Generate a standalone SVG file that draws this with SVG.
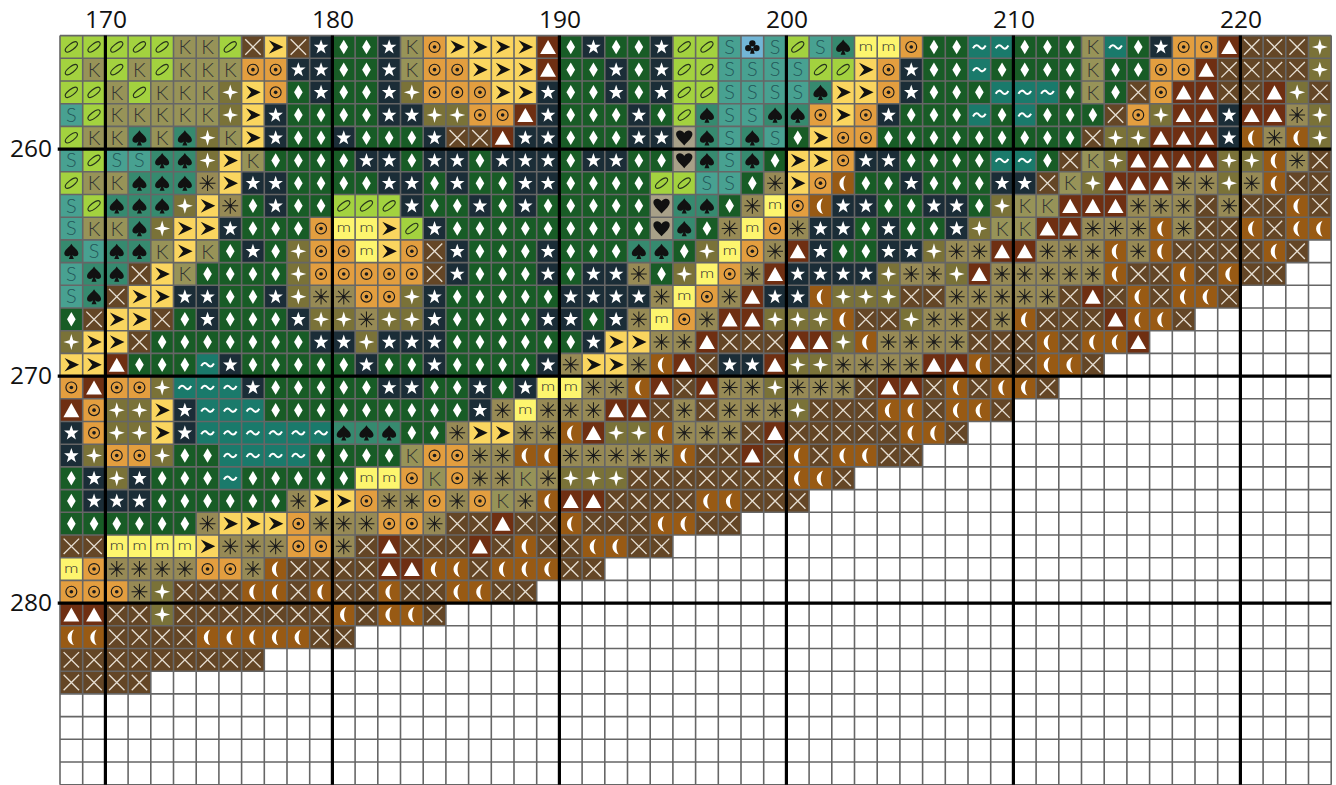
<svg xmlns="http://www.w3.org/2000/svg" width="1336" height="785" viewBox="0 0 1336 785">
<style>
.l{font:24.5px "Open Sans","Liberation Sans",sans-serif;fill:#111}
.g{font-family:Lato,"Open Sans","Liberation Sans",sans-serif;font-weight:300;text-anchor:middle}
.w{fill:#fff}
.n{fill:none;stroke-linecap:butt}
</style>
<defs>
<g id="d"><rect width="1" height="1" fill="#185c26"/><path class="w" d="M.5 .18L.69 .5L.5 .82L.31 .5Z"/></g>
<g id="t"><rect width="1" height="1" fill="#1b2d37"/><path class="w" d="M.5 .17L.58 .4H.82L.63 .55L.7 .79L.5 .65L.3 .79L.37 .55L.18 .4H.42Z"/></g>
<g id="w"><rect width="1" height="1" fill="#1a7a6b"/><path class="n" stroke="#fff" stroke-width=".09" d="M.22 .56C.32 .38 .42 .4 .5 .5C.58 .6 .68 .62 .78 .44"/></g>
<g id="S"><rect width="1" height="1" fill="#48a191"/><text class="g" x="12.5" y="20" font-size="22" fill="#24585a" transform="scale(.04)">S</text></g>
<g id="p"><rect width="1" height="1" fill="#368a6f"/><path fill="#111" d="M.5 .17C.6 .34 .81 .44 .81 .6C.81 .73 .63 .76 .54 .66L.61 .84H.39L.46 .66C.37 .76 .19 .73 .19 .6C.19 .44 .4 .34 .5 .17Z"/></g>
<g id="K"><rect width="1" height="1" fill="#979358"/><text class="g" x="12.5" y="20.5" font-size="22" fill="#333" transform="scale(.04)">K</text></g>
<g id="o"><rect width="1" height="1" fill="#a3d23f"/><ellipse cx="0" cy="0" rx=".32" ry=".13" transform="translate(.5 .5) rotate(-38)" fill="none" stroke="#26331c" stroke-width=".05"/></g>
<g id="x"><rect width="1" height="1" fill="#644626"/><path class="n" stroke="#e6ded2" stroke-width=".06" d="M.16 .16L.84 .84M.84 .16L.16 .84"/></g>
<g id="a"><rect width="1" height="1" fill="#fad55f"/><path fill="#111" d="M.2 .2L.84 .5L.2 .8L.42 .5Z"/></g>
<g id="c"><rect width="1" height="1" fill="#e39e3f"/><circle cx=".5" cy=".5" r=".24" fill="none" stroke="#1a1a1a" stroke-width=".05"/><circle cx=".5" cy=".5" r=".08" fill="#1a1a1a"/></g>
<g id="m"><rect width="1" height="1" fill="#fdf56e"/><text class="g" x="12.5" y="16.5" font-size="16" fill="#333" textLength="16" lengthAdjust="spacingAndGlyphs" transform="scale(.04)">m</text></g>
<g id="f"><rect width="1" height="1" fill="#7a7238"/><path class="w" d="M.5 .15L.58 .42L.85 .5L.58 .58L.5 .85L.42 .58L.15 .5L.42 .42Z"/></g>
<g id="j"><rect width="1" height="1" fill="#978a55"/><path class="n" stroke="#1a1a1a" stroke-width=".045" d="M.5 .15V.85M.15 .5H.85M.25 .25L.75 .75M.75 .25L.25 .75"/><circle cx=".5" cy=".5" r=".07" fill="#1a1a1a"/></g>
<g id="v"><rect width="1" height="1" fill="#6f2f12"/><path class="w" d="M.5 .19L.85 .81H.15Z"/></g>
<g id="u"><rect width="1" height="1" fill="#985a14"/><path class="w" d="M.62 .16C.24 .3 .24 .72 .62 .86C.48 .68 .48 .36 .62 .16Z"/></g>
<g id="h"><rect width="1" height="1" fill="#a8a088"/><path fill="#111" d="M.5 .84C.3 .62 .14 .5 .14 .34C.14 .16 .4 .12 .5 .3C.6 .12 .86 .16 .86 .34C.86 .5 .7 .62 .5 .84Z"/></g>
<g id="b"><rect width="1" height="1" fill="#72b6d6"/><path fill="#111" d="M.46 .55L.4 .8H.6L.54 .55Z"/><circle cx=".5" cy=".34" r=".14" fill="#111"/><circle cx=".32" cy=".55" r=".14" fill="#111"/><circle cx=".68" cy=".55" r=".14" fill="#111"/></g>
</defs>
<rect width="1336" height="785" fill="#fff"/>
<g id="labels" class="l">
<text x="106" y="28" text-anchor="middle">170</text><text x="333" y="28" text-anchor="middle">180</text><text x="560" y="28" text-anchor="middle">190</text><text x="787" y="28" text-anchor="middle">200</text><text x="1014" y="28" text-anchor="middle">210</text><text x="1241" y="28" text-anchor="middle">220</text>
<text x="52" y="157" text-anchor="end">260</text><text x="52" y="384" text-anchor="end">270</text><text x="52" y="611" text-anchor="end">280</text>
</g>
<g id="chart" transform="translate(60 35.6) scale(22.7)">
<g id="r0"><use href="#o" x="0"/><use href="#o" x="1"/><use href="#o" x="2"/><use href="#o" x="3"/><use href="#o" x="4"/><use href="#K" x="5"/><use href="#K" x="6"/><use href="#o" x="7"/><use href="#x" x="8"/><use href="#a" x="9"/><use href="#x" x="10"/><use href="#t" x="11"/><use href="#d" x="12"/><use href="#d" x="13"/><use href="#t" x="14"/><use href="#K" x="15"/><use href="#c" x="16"/><use href="#a" x="17"/><use href="#a" x="18"/><use href="#a" x="19"/><use href="#a" x="20"/><use href="#v" x="21"/><use href="#d" x="22"/><use href="#t" x="23"/><use href="#d" x="24"/><use href="#d" x="25"/><use href="#t" x="26"/><use href="#o" x="27"/><use href="#o" x="28"/><use href="#S" x="29"/><use href="#b" x="30"/><use href="#S" x="31"/><use href="#o" x="32"/><use href="#S" x="33"/><use href="#p" x="34"/><use href="#m" x="35"/><use href="#m" x="36"/><use href="#c" x="37"/><use href="#d" x="38"/><use href="#d" x="39"/><use href="#w" x="40"/><use href="#w" x="41"/><use href="#d" x="42"/><use href="#d" x="43"/><use href="#d" x="44"/><use href="#K" x="45"/><use href="#w" x="46"/><use href="#d" x="47"/><use href="#t" x="48"/><use href="#c" x="49"/><use href="#c" x="50"/><use href="#v" x="51"/><use href="#x" x="52"/><use href="#x" x="53"/><use href="#x" x="54"/><use href="#f" x="55"/></g>
<g id="r1" transform="translate(0 1)"><use href="#o" x="0"/><use href="#K" x="1"/><use href="#o" x="2"/><use href="#K" x="3"/><use href="#o" x="4"/><use href="#K" x="5"/><use href="#K" x="6"/><use href="#K" x="7"/><use href="#c" x="8"/><use href="#c" x="9"/><use href="#t" x="10"/><use href="#t" x="11"/><use href="#d" x="12"/><use href="#d" x="13"/><use href="#t" x="14"/><use href="#K" x="15"/><use href="#c" x="16"/><use href="#c" x="17"/><use href="#a" x="18"/><use href="#a" x="19"/><use href="#a" x="20"/><use href="#v" x="21"/><use href="#d" x="22"/><use href="#d" x="23"/><use href="#t" x="24"/><use href="#d" x="25"/><use href="#t" x="26"/><use href="#o" x="27"/><use href="#o" x="28"/><use href="#S" x="29"/><use href="#S" x="30"/><use href="#S" x="31"/><use href="#S" x="32"/><use href="#o" x="33"/><use href="#o" x="34"/><use href="#a" x="35"/><use href="#c" x="36"/><use href="#t" x="37"/><use href="#d" x="38"/><use href="#d" x="39"/><use href="#w" x="40"/><use href="#d" x="41"/><use href="#d" x="42"/><use href="#d" x="43"/><use href="#d" x="44"/><use href="#K" x="45"/><use href="#d" x="46"/><use href="#d" x="47"/><use href="#c" x="48"/><use href="#c" x="49"/><use href="#v" x="50"/><use href="#x" x="51"/><use href="#x" x="52"/><use href="#x" x="53"/><use href="#x" x="54"/><use href="#f" x="55"/></g>
<g id="r2" transform="translate(0 2)"><use href="#o" x="0"/><use href="#o" x="1"/><use href="#K" x="2"/><use href="#o" x="3"/><use href="#K" x="4"/><use href="#K" x="5"/><use href="#K" x="6"/><use href="#f" x="7"/><use href="#a" x="8"/><use href="#c" x="9"/><use href="#d" x="10"/><use href="#t" x="11"/><use href="#d" x="12"/><use href="#d" x="13"/><use href="#t" x="14"/><use href="#f" x="15"/><use href="#c" x="16"/><use href="#c" x="17"/><use href="#c" x="18"/><use href="#a" x="19"/><use href="#a" x="20"/><use href="#t" x="21"/><use href="#d" x="22"/><use href="#d" x="23"/><use href="#t" x="24"/><use href="#d" x="25"/><use href="#t" x="26"/><use href="#o" x="27"/><use href="#o" x="28"/><use href="#S" x="29"/><use href="#S" x="30"/><use href="#S" x="31"/><use href="#S" x="32"/><use href="#p" x="33"/><use href="#a" x="34"/><use href="#a" x="35"/><use href="#c" x="36"/><use href="#t" x="37"/><use href="#d" x="38"/><use href="#d" x="39"/><use href="#d" x="40"/><use href="#w" x="41"/><use href="#w" x="42"/><use href="#w" x="43"/><use href="#d" x="44"/><use href="#K" x="45"/><use href="#d" x="46"/><use href="#x" x="47"/><use href="#c" x="48"/><use href="#v" x="49"/><use href="#v" x="50"/><use href="#x" x="51"/><use href="#x" x="52"/><use href="#v" x="53"/><use href="#f" x="54"/><use href="#x" x="55"/></g>
<g id="r3" transform="translate(0 3)"><use href="#S" x="0"/><use href="#o" x="1"/><use href="#K" x="2"/><use href="#K" x="3"/><use href="#K" x="4"/><use href="#K" x="5"/><use href="#K" x="6"/><use href="#f" x="7"/><use href="#a" x="8"/><use href="#t" x="9"/><use href="#d" x="10"/><use href="#d" x="11"/><use href="#d" x="12"/><use href="#d" x="13"/><use href="#t" x="14"/><use href="#t" x="15"/><use href="#f" x="16"/><use href="#f" x="17"/><use href="#c" x="18"/><use href="#c" x="19"/><use href="#v" x="20"/><use href="#t" x="21"/><use href="#d" x="22"/><use href="#d" x="23"/><use href="#d" x="24"/><use href="#t" x="25"/><use href="#d" x="26"/><use href="#o" x="27"/><use href="#p" x="28"/><use href="#S" x="29"/><use href="#S" x="30"/><use href="#p" x="31"/><use href="#p" x="32"/><use href="#c" x="33"/><use href="#a" x="34"/><use href="#c" x="35"/><use href="#t" x="36"/><use href="#d" x="37"/><use href="#d" x="38"/><use href="#d" x="39"/><use href="#w" x="40"/><use href="#d" x="41"/><use href="#w" x="42"/><use href="#d" x="43"/><use href="#d" x="44"/><use href="#d" x="45"/><use href="#x" x="46"/><use href="#c" x="47"/><use href="#f" x="48"/><use href="#v" x="49"/><use href="#v" x="50"/><use href="#t" x="51"/><use href="#v" x="52"/><use href="#v" x="53"/><use href="#j" x="54"/><use href="#f" x="55"/></g>
<g id="r4" transform="translate(0 4)"><use href="#o" x="0"/><use href="#K" x="1"/><use href="#K" x="2"/><use href="#p" x="3"/><use href="#K" x="4"/><use href="#p" x="5"/><use href="#f" x="6"/><use href="#K" x="7"/><use href="#a" x="8"/><use href="#t" x="9"/><use href="#d" x="10"/><use href="#d" x="11"/><use href="#t" x="12"/><use href="#d" x="13"/><use href="#d" x="14"/><use href="#d" x="15"/><use href="#t" x="16"/><use href="#x" x="17"/><use href="#x" x="18"/><use href="#v" x="19"/><use href="#t" x="20"/><use href="#t" x="21"/><use href="#d" x="22"/><use href="#d" x="23"/><use href="#d" x="24"/><use href="#t" x="25"/><use href="#t" x="26"/><use href="#h" x="27"/><use href="#p" x="28"/><use href="#S" x="29"/><use href="#p" x="30"/><use href="#S" x="31"/><use href="#d" x="32"/><use href="#a" x="33"/><use href="#c" x="34"/><use href="#c" x="35"/><use href="#d" x="36"/><use href="#d" x="37"/><use href="#d" x="38"/><use href="#d" x="39"/><use href="#d" x="40"/><use href="#d" x="41"/><use href="#d" x="42"/><use href="#d" x="43"/><use href="#d" x="44"/><use href="#x" x="45"/><use href="#f" x="46"/><use href="#f" x="47"/><use href="#v" x="48"/><use href="#v" x="49"/><use href="#v" x="50"/><use href="#t" x="51"/><use href="#u" x="52"/><use href="#j" x="53"/><use href="#u" x="54"/><use href="#f" x="55"/></g>
<g id="r5" transform="translate(0 5)"><use href="#S" x="0"/><use href="#o" x="1"/><use href="#S" x="2"/><use href="#S" x="3"/><use href="#p" x="4"/><use href="#p" x="5"/><use href="#f" x="6"/><use href="#a" x="7"/><use href="#K" x="8"/><use href="#d" x="9"/><use href="#d" x="10"/><use href="#d" x="11"/><use href="#d" x="12"/><use href="#t" x="13"/><use href="#t" x="14"/><use href="#d" x="15"/><use href="#t" x="16"/><use href="#t" x="17"/><use href="#d" x="18"/><use href="#t" x="19"/><use href="#t" x="20"/><use href="#t" x="21"/><use href="#d" x="22"/><use href="#t" x="23"/><use href="#t" x="24"/><use href="#d" x="25"/><use href="#d" x="26"/><use href="#h" x="27"/><use href="#p" x="28"/><use href="#S" x="29"/><use href="#p" x="30"/><use href="#d" x="31"/><use href="#a" x="32"/><use href="#a" x="33"/><use href="#c" x="34"/><use href="#t" x="35"/><use href="#t" x="36"/><use href="#d" x="37"/><use href="#d" x="38"/><use href="#d" x="39"/><use href="#d" x="40"/><use href="#w" x="41"/><use href="#w" x="42"/><use href="#d" x="43"/><use href="#x" x="44"/><use href="#K" x="45"/><use href="#f" x="46"/><use href="#v" x="47"/><use href="#v" x="48"/><use href="#v" x="49"/><use href="#v" x="50"/><use href="#f" x="51"/><use href="#f" x="52"/><use href="#u" x="53"/><use href="#j" x="54"/><use href="#x" x="55"/></g>
<g id="r6" transform="translate(0 6)"><use href="#o" x="0"/><use href="#K" x="1"/><use href="#K" x="2"/><use href="#p" x="3"/><use href="#p" x="4"/><use href="#p" x="5"/><use href="#j" x="6"/><use href="#a" x="7"/><use href="#t" x="8"/><use href="#t" x="9"/><use href="#d" x="10"/><use href="#d" x="11"/><use href="#d" x="12"/><use href="#d" x="13"/><use href="#t" x="14"/><use href="#t" x="15"/><use href="#d" x="16"/><use href="#t" x="17"/><use href="#d" x="18"/><use href="#d" x="19"/><use href="#t" x="20"/><use href="#t" x="21"/><use href="#d" x="22"/><use href="#d" x="23"/><use href="#d" x="24"/><use href="#d" x="25"/><use href="#o" x="26"/><use href="#o" x="27"/><use href="#S" x="28"/><use href="#S" x="29"/><use href="#d" x="30"/><use href="#j" x="31"/><use href="#a" x="32"/><use href="#c" x="33"/><use href="#u" x="34"/><use href="#d" x="35"/><use href="#d" x="36"/><use href="#t" x="37"/><use href="#d" x="38"/><use href="#d" x="39"/><use href="#d" x="40"/><use href="#t" x="41"/><use href="#t" x="42"/><use href="#x" x="43"/><use href="#K" x="44"/><use href="#f" x="45"/><use href="#v" x="46"/><use href="#v" x="47"/><use href="#v" x="48"/><use href="#j" x="49"/><use href="#j" x="50"/><use href="#f" x="51"/><use href="#j" x="52"/><use href="#u" x="53"/><use href="#x" x="54"/><use href="#x" x="55"/></g>
<g id="r7" transform="translate(0 7)"><use href="#S" x="0"/><use href="#o" x="1"/><use href="#p" x="2"/><use href="#p" x="3"/><use href="#p" x="4"/><use href="#f" x="5"/><use href="#a" x="6"/><use href="#j" x="7"/><use href="#d" x="8"/><use href="#t" x="9"/><use href="#d" x="10"/><use href="#d" x="11"/><use href="#o" x="12"/><use href="#o" x="13"/><use href="#o" x="14"/><use href="#t" x="15"/><use href="#d" x="16"/><use href="#d" x="17"/><use href="#t" x="18"/><use href="#d" x="19"/><use href="#t" x="20"/><use href="#d" x="21"/><use href="#d" x="22"/><use href="#d" x="23"/><use href="#d" x="24"/><use href="#d" x="25"/><use href="#h" x="26"/><use href="#p" x="27"/><use href="#p" x="28"/><use href="#d" x="29"/><use href="#j" x="30"/><use href="#m" x="31"/><use href="#c" x="32"/><use href="#u" x="33"/><use href="#t" x="34"/><use href="#t" x="35"/><use href="#d" x="36"/><use href="#d" x="37"/><use href="#t" x="38"/><use href="#t" x="39"/><use href="#d" x="40"/><use href="#f" x="41"/><use href="#K" x="42"/><use href="#K" x="43"/><use href="#v" x="44"/><use href="#v" x="45"/><use href="#v" x="46"/><use href="#j" x="47"/><use href="#j" x="48"/><use href="#j" x="49"/><use href="#x" x="50"/><use href="#j" x="51"/><use href="#x" x="52"/><use href="#x" x="53"/><use href="#u" x="54"/><use href="#x" x="55"/></g>
<g id="r8" transform="translate(0 8)"><use href="#S" x="0"/><use href="#K" x="1"/><use href="#K" x="2"/><use href="#p" x="3"/><use href="#f" x="4"/><use href="#a" x="5"/><use href="#a" x="6"/><use href="#t" x="7"/><use href="#d" x="8"/><use href="#d" x="9"/><use href="#d" x="10"/><use href="#c" x="11"/><use href="#m" x="12"/><use href="#m" x="13"/><use href="#a" x="14"/><use href="#o" x="15"/><use href="#t" x="16"/><use href="#d" x="17"/><use href="#d" x="18"/><use href="#d" x="19"/><use href="#d" x="20"/><use href="#d" x="21"/><use href="#d" x="22"/><use href="#d" x="23"/><use href="#d" x="24"/><use href="#d" x="25"/><use href="#h" x="26"/><use href="#p" x="27"/><use href="#d" x="28"/><use href="#j" x="29"/><use href="#m" x="30"/><use href="#c" x="31"/><use href="#j" x="32"/><use href="#t" x="33"/><use href="#t" x="34"/><use href="#d" x="35"/><use href="#t" x="36"/><use href="#d" x="37"/><use href="#d" x="38"/><use href="#t" x="39"/><use href="#f" x="40"/><use href="#K" x="41"/><use href="#K" x="42"/><use href="#v" x="43"/><use href="#v" x="44"/><use href="#j" x="45"/><use href="#j" x="46"/><use href="#j" x="47"/><use href="#u" x="48"/><use href="#j" x="49"/><use href="#x" x="50"/><use href="#x" x="51"/><use href="#u" x="52"/><use href="#x" x="53"/><use href="#u" x="54"/><use href="#u" x="55"/></g>
<g id="r9" transform="translate(0 9)"><use href="#p" x="0"/><use href="#S" x="1"/><use href="#p" x="2"/><use href="#p" x="3"/><use href="#K" x="4"/><use href="#a" x="5"/><use href="#K" x="6"/><use href="#d" x="7"/><use href="#t" x="8"/><use href="#d" x="9"/><use href="#f" x="10"/><use href="#c" x="11"/><use href="#c" x="12"/><use href="#m" x="13"/><use href="#a" x="14"/><use href="#c" x="15"/><use href="#x" x="16"/><use href="#t" x="17"/><use href="#d" x="18"/><use href="#d" x="19"/><use href="#d" x="20"/><use href="#t" x="21"/><use href="#d" x="22"/><use href="#d" x="23"/><use href="#d" x="24"/><use href="#p" x="25"/><use href="#p" x="26"/><use href="#d" x="27"/><use href="#f" x="28"/><use href="#m" x="29"/><use href="#c" x="30"/><use href="#j" x="31"/><use href="#v" x="32"/><use href="#t" x="33"/><use href="#d" x="34"/><use href="#d" x="35"/><use href="#t" x="36"/><use href="#t" x="37"/><use href="#f" x="38"/><use href="#j" x="39"/><use href="#j" x="40"/><use href="#v" x="41"/><use href="#v" x="42"/><use href="#j" x="43"/><use href="#j" x="44"/><use href="#j" x="45"/><use href="#u" x="46"/><use href="#j" x="47"/><use href="#u" x="48"/><use href="#x" x="49"/><use href="#x" x="50"/><use href="#x" x="51"/><use href="#x" x="52"/><use href="#u" x="53"/><use href="#x" x="54"/></g>
<g id="r10" transform="translate(0 10)"><use href="#S" x="0"/><use href="#p" x="1"/><use href="#p" x="2"/><use href="#x" x="3"/><use href="#a" x="4"/><use href="#K" x="5"/><use href="#d" x="6"/><use href="#d" x="7"/><use href="#d" x="8"/><use href="#d" x="9"/><use href="#f" x="10"/><use href="#c" x="11"/><use href="#c" x="12"/><use href="#c" x="13"/><use href="#c" x="14"/><use href="#c" x="15"/><use href="#x" x="16"/><use href="#t" x="17"/><use href="#d" x="18"/><use href="#d" x="19"/><use href="#d" x="20"/><use href="#t" x="21"/><use href="#d" x="22"/><use href="#t" x="23"/><use href="#t" x="24"/><use href="#j" x="25"/><use href="#d" x="26"/><use href="#f" x="27"/><use href="#m" x="28"/><use href="#c" x="29"/><use href="#j" x="30"/><use href="#v" x="31"/><use href="#t" x="32"/><use href="#t" x="33"/><use href="#t" x="34"/><use href="#t" x="35"/><use href="#f" x="36"/><use href="#j" x="37"/><use href="#j" x="38"/><use href="#f" x="39"/><use href="#v" x="40"/><use href="#j" x="41"/><use href="#j" x="42"/><use href="#j" x="43"/><use href="#j" x="44"/><use href="#j" x="45"/><use href="#u" x="46"/><use href="#x" x="47"/><use href="#x" x="48"/><use href="#u" x="49"/><use href="#x" x="50"/><use href="#u" x="51"/><use href="#x" x="52"/><use href="#x" x="53"/></g>
<g id="r11" transform="translate(0 11)"><use href="#S" x="0"/><use href="#p" x="1"/><use href="#x" x="2"/><use href="#a" x="3"/><use href="#a" x="4"/><use href="#t" x="5"/><use href="#t" x="6"/><use href="#d" x="7"/><use href="#d" x="8"/><use href="#t" x="9"/><use href="#f" x="10"/><use href="#j" x="11"/><use href="#j" x="12"/><use href="#c" x="13"/><use href="#c" x="14"/><use href="#f" x="15"/><use href="#t" x="16"/><use href="#d" x="17"/><use href="#d" x="18"/><use href="#d" x="19"/><use href="#d" x="20"/><use href="#d" x="21"/><use href="#t" x="22"/><use href="#t" x="23"/><use href="#t" x="24"/><use href="#t" x="25"/><use href="#j" x="26"/><use href="#m" x="27"/><use href="#c" x="28"/><use href="#j" x="29"/><use href="#v" x="30"/><use href="#t" x="31"/><use href="#t" x="32"/><use href="#u" x="33"/><use href="#f" x="34"/><use href="#f" x="35"/><use href="#f" x="36"/><use href="#x" x="37"/><use href="#x" x="38"/><use href="#j" x="39"/><use href="#j" x="40"/><use href="#j" x="41"/><use href="#j" x="42"/><use href="#j" x="43"/><use href="#x" x="44"/><use href="#v" x="45"/><use href="#x" x="46"/><use href="#u" x="47"/><use href="#x" x="48"/><use href="#u" x="49"/><use href="#u" x="50"/><use href="#x" x="51"/></g>
<g id="r12" transform="translate(0 12)"><use href="#d" x="0"/><use href="#x" x="1"/><use href="#a" x="2"/><use href="#a" x="3"/><use href="#x" x="4"/><use href="#d" x="5"/><use href="#t" x="6"/><use href="#d" x="7"/><use href="#d" x="8"/><use href="#d" x="9"/><use href="#t" x="10"/><use href="#f" x="11"/><use href="#f" x="12"/><use href="#j" x="13"/><use href="#f" x="14"/><use href="#f" x="15"/><use href="#t" x="16"/><use href="#d" x="17"/><use href="#d" x="18"/><use href="#d" x="19"/><use href="#d" x="20"/><use href="#t" x="21"/><use href="#t" x="22"/><use href="#d" x="23"/><use href="#t" x="24"/><use href="#j" x="25"/><use href="#m" x="26"/><use href="#c" x="27"/><use href="#j" x="28"/><use href="#v" x="29"/><use href="#v" x="30"/><use href="#f" x="31"/><use href="#f" x="32"/><use href="#f" x="33"/><use href="#u" x="34"/><use href="#x" x="35"/><use href="#x" x="36"/><use href="#f" x="37"/><use href="#j" x="38"/><use href="#j" x="39"/><use href="#x" x="40"/><use href="#j" x="41"/><use href="#u" x="42"/><use href="#x" x="43"/><use href="#x" x="44"/><use href="#x" x="45"/><use href="#v" x="46"/><use href="#u" x="47"/><use href="#u" x="48"/><use href="#x" x="49"/></g>
<g id="r13" transform="translate(0 13)"><use href="#f" x="0"/><use href="#a" x="1"/><use href="#a" x="2"/><use href="#x" x="3"/><use href="#d" x="4"/><use href="#d" x="5"/><use href="#d" x="6"/><use href="#d" x="7"/><use href="#d" x="8"/><use href="#d" x="9"/><use href="#d" x="10"/><use href="#t" x="11"/><use href="#t" x="12"/><use href="#f" x="13"/><use href="#t" x="14"/><use href="#t" x="15"/><use href="#t" x="16"/><use href="#d" x="17"/><use href="#d" x="18"/><use href="#d" x="19"/><use href="#d" x="20"/><use href="#d" x="21"/><use href="#d" x="22"/><use href="#t" x="23"/><use href="#a" x="24"/><use href="#a" x="25"/><use href="#j" x="26"/><use href="#j" x="27"/><use href="#v" x="28"/><use href="#x" x="29"/><use href="#x" x="30"/><use href="#x" x="31"/><use href="#v" x="32"/><use href="#v" x="33"/><use href="#f" x="34"/><use href="#u" x="35"/><use href="#j" x="36"/><use href="#j" x="37"/><use href="#j" x="38"/><use href="#j" x="39"/><use href="#x" x="40"/><use href="#x" x="41"/><use href="#x" x="42"/><use href="#u" x="43"/><use href="#x" x="44"/><use href="#u" x="45"/><use href="#u" x="46"/><use href="#v" x="47"/></g>
<g id="r14" transform="translate(0 14)"><use href="#a" x="0"/><use href="#a" x="1"/><use href="#v" x="2"/><use href="#d" x="3"/><use href="#d" x="4"/><use href="#d" x="5"/><use href="#w" x="6"/><use href="#t" x="7"/><use href="#d" x="8"/><use href="#d" x="9"/><use href="#d" x="10"/><use href="#d" x="11"/><use href="#d" x="12"/><use href="#t" x="13"/><use href="#d" x="14"/><use href="#d" x="15"/><use href="#t" x="16"/><use href="#d" x="17"/><use href="#d" x="18"/><use href="#d" x="19"/><use href="#d" x="20"/><use href="#t" x="21"/><use href="#j" x="22"/><use href="#a" x="23"/><use href="#a" x="24"/><use href="#j" x="25"/><use href="#u" x="26"/><use href="#v" x="27"/><use href="#x" x="28"/><use href="#t" x="29"/><use href="#t" x="30"/><use href="#v" x="31"/><use href="#f" x="32"/><use href="#f" x="33"/><use href="#j" x="34"/><use href="#j" x="35"/><use href="#j" x="36"/><use href="#j" x="37"/><use href="#v" x="38"/><use href="#v" x="39"/><use href="#u" x="40"/><use href="#x" x="41"/><use href="#x" x="42"/><use href="#u" x="43"/><use href="#u" x="44"/><use href="#x" x="45"/></g>
<g id="r15" transform="translate(0 15)"><use href="#c" x="0"/><use href="#v" x="1"/><use href="#c" x="2"/><use href="#c" x="3"/><use href="#f" x="4"/><use href="#w" x="5"/><use href="#w" x="6"/><use href="#w" x="7"/><use href="#t" x="8"/><use href="#d" x="9"/><use href="#d" x="10"/><use href="#d" x="11"/><use href="#d" x="12"/><use href="#d" x="13"/><use href="#t" x="14"/><use href="#t" x="15"/><use href="#d" x="16"/><use href="#d" x="17"/><use href="#t" x="18"/><use href="#d" x="19"/><use href="#t" x="20"/><use href="#m" x="21"/><use href="#m" x="22"/><use href="#j" x="23"/><use href="#j" x="24"/><use href="#u" x="25"/><use href="#v" x="26"/><use href="#x" x="27"/><use href="#v" x="28"/><use href="#j" x="29"/><use href="#j" x="30"/><use href="#f" x="31"/><use href="#j" x="32"/><use href="#j" x="33"/><use href="#j" x="34"/><use href="#x" x="35"/><use href="#v" x="36"/><use href="#v" x="37"/><use href="#x" x="38"/><use href="#u" x="39"/><use href="#x" x="40"/><use href="#u" x="41"/><use href="#u" x="42"/><use href="#x" x="43"/></g>
<g id="r16" transform="translate(0 16)"><use href="#v" x="0"/><use href="#c" x="1"/><use href="#f" x="2"/><use href="#f" x="3"/><use href="#a" x="4"/><use href="#t" x="5"/><use href="#w" x="6"/><use href="#w" x="7"/><use href="#w" x="8"/><use href="#d" x="9"/><use href="#d" x="10"/><use href="#d" x="11"/><use href="#d" x="12"/><use href="#d" x="13"/><use href="#d" x="14"/><use href="#d" x="15"/><use href="#d" x="16"/><use href="#d" x="17"/><use href="#t" x="18"/><use href="#j" x="19"/><use href="#m" x="20"/><use href="#j" x="21"/><use href="#j" x="22"/><use href="#j" x="23"/><use href="#v" x="24"/><use href="#v" x="25"/><use href="#x" x="26"/><use href="#j" x="27"/><use href="#x" x="28"/><use href="#j" x="29"/><use href="#j" x="30"/><use href="#j" x="31"/><use href="#f" x="32"/><use href="#x" x="33"/><use href="#x" x="34"/><use href="#x" x="35"/><use href="#u" x="36"/><use href="#u" x="37"/><use href="#x" x="38"/><use href="#u" x="39"/><use href="#u" x="40"/><use href="#x" x="41"/></g>
<g id="r17" transform="translate(0 17)"><use href="#t" x="0"/><use href="#c" x="1"/><use href="#f" x="2"/><use href="#f" x="3"/><use href="#a" x="4"/><use href="#t" x="5"/><use href="#w" x="6"/><use href="#w" x="7"/><use href="#w" x="8"/><use href="#w" x="9"/><use href="#w" x="10"/><use href="#w" x="11"/><use href="#p" x="12"/><use href="#p" x="13"/><use href="#p" x="14"/><use href="#d" x="15"/><use href="#d" x="16"/><use href="#j" x="17"/><use href="#a" x="18"/><use href="#a" x="19"/><use href="#j" x="20"/><use href="#j" x="21"/><use href="#u" x="22"/><use href="#v" x="23"/><use href="#f" x="24"/><use href="#f" x="25"/><use href="#u" x="26"/><use href="#j" x="27"/><use href="#j" x="28"/><use href="#j" x="29"/><use href="#x" x="30"/><use href="#v" x="31"/><use href="#x" x="32"/><use href="#x" x="33"/><use href="#x" x="34"/><use href="#x" x="35"/><use href="#x" x="36"/><use href="#u" x="37"/><use href="#u" x="38"/><use href="#x" x="39"/></g>
<g id="r18" transform="translate(0 18)"><use href="#t" x="0"/><use href="#f" x="1"/><use href="#c" x="2"/><use href="#c" x="3"/><use href="#f" x="4"/><use href="#d" x="5"/><use href="#d" x="6"/><use href="#w" x="7"/><use href="#w" x="8"/><use href="#w" x="9"/><use href="#w" x="10"/><use href="#d" x="11"/><use href="#d" x="12"/><use href="#d" x="13"/><use href="#d" x="14"/><use href="#K" x="15"/><use href="#c" x="16"/><use href="#c" x="17"/><use href="#j" x="18"/><use href="#j" x="19"/><use href="#u" x="20"/><use href="#u" x="21"/><use href="#j" x="22"/><use href="#j" x="23"/><use href="#j" x="24"/><use href="#j" x="25"/><use href="#j" x="26"/><use href="#u" x="27"/><use href="#x" x="28"/><use href="#x" x="29"/><use href="#v" x="30"/><use href="#x" x="31"/><use href="#u" x="32"/><use href="#x" x="33"/><use href="#u" x="34"/><use href="#u" x="35"/><use href="#x" x="36"/><use href="#x" x="37"/></g>
<g id="r19" transform="translate(0 19)"><use href="#d" x="0"/><use href="#t" x="1"/><use href="#f" x="2"/><use href="#t" x="3"/><use href="#d" x="4"/><use href="#d" x="5"/><use href="#d" x="6"/><use href="#w" x="7"/><use href="#d" x="8"/><use href="#d" x="9"/><use href="#d" x="10"/><use href="#d" x="11"/><use href="#d" x="12"/><use href="#m" x="13"/><use href="#m" x="14"/><use href="#c" x="15"/><use href="#K" x="16"/><use href="#c" x="17"/><use href="#j" x="18"/><use href="#j" x="19"/><use href="#K" x="20"/><use href="#j" x="21"/><use href="#f" x="22"/><use href="#f" x="23"/><use href="#f" x="24"/><use href="#x" x="25"/><use href="#x" x="26"/><use href="#x" x="27"/><use href="#x" x="28"/><use href="#x" x="29"/><use href="#x" x="30"/><use href="#x" x="31"/><use href="#u" x="32"/><use href="#u" x="33"/><use href="#x" x="34"/></g>
<g id="r20" transform="translate(0 20)"><use href="#d" x="0"/><use href="#t" x="1"/><use href="#t" x="2"/><use href="#t" x="3"/><use href="#d" x="4"/><use href="#d" x="5"/><use href="#d" x="6"/><use href="#d" x="7"/><use href="#d" x="8"/><use href="#d" x="9"/><use href="#j" x="10"/><use href="#a" x="11"/><use href="#a" x="12"/><use href="#c" x="13"/><use href="#j" x="14"/><use href="#j" x="15"/><use href="#c" x="16"/><use href="#j" x="17"/><use href="#c" x="18"/><use href="#K" x="19"/><use href="#j" x="20"/><use href="#u" x="21"/><use href="#v" x="22"/><use href="#v" x="23"/><use href="#x" x="24"/><use href="#x" x="25"/><use href="#x" x="26"/><use href="#x" x="27"/><use href="#u" x="28"/><use href="#u" x="29"/><use href="#x" x="30"/><use href="#x" x="31"/><use href="#x" x="32"/></g>
<g id="r21" transform="translate(0 21)"><use href="#d" x="0"/><use href="#d" x="1"/><use href="#d" x="2"/><use href="#d" x="3"/><use href="#d" x="4"/><use href="#d" x="5"/><use href="#j" x="6"/><use href="#a" x="7"/><use href="#a" x="8"/><use href="#a" x="9"/><use href="#c" x="10"/><use href="#j" x="11"/><use href="#j" x="12"/><use href="#j" x="13"/><use href="#c" x="14"/><use href="#c" x="15"/><use href="#j" x="16"/><use href="#x" x="17"/><use href="#x" x="18"/><use href="#v" x="19"/><use href="#x" x="20"/><use href="#x" x="21"/><use href="#u" x="22"/><use href="#x" x="23"/><use href="#x" x="24"/><use href="#x" x="25"/><use href="#u" x="26"/><use href="#u" x="27"/><use href="#x" x="28"/><use href="#x" x="29"/></g>
<g id="r22" transform="translate(0 22)"><use href="#x" x="0"/><use href="#x" x="1"/><use href="#m" x="2"/><use href="#m" x="3"/><use href="#m" x="4"/><use href="#m" x="5"/><use href="#a" x="6"/><use href="#j" x="7"/><use href="#j" x="8"/><use href="#j" x="9"/><use href="#c" x="10"/><use href="#c" x="11"/><use href="#j" x="12"/><use href="#x" x="13"/><use href="#v" x="14"/><use href="#x" x="15"/><use href="#x" x="16"/><use href="#x" x="17"/><use href="#v" x="18"/><use href="#x" x="19"/><use href="#u" x="20"/><use href="#x" x="21"/><use href="#x" x="22"/><use href="#u" x="23"/><use href="#u" x="24"/><use href="#x" x="25"/><use href="#x" x="26"/></g>
<g id="r23" transform="translate(0 23)"><use href="#m" x="0"/><use href="#c" x="1"/><use href="#j" x="2"/><use href="#j" x="3"/><use href="#j" x="4"/><use href="#j" x="5"/><use href="#c" x="6"/><use href="#c" x="7"/><use href="#j" x="8"/><use href="#u" x="9"/><use href="#x" x="10"/><use href="#x" x="11"/><use href="#x" x="12"/><use href="#x" x="13"/><use href="#v" x="14"/><use href="#v" x="15"/><use href="#u" x="16"/><use href="#u" x="17"/><use href="#x" x="18"/><use href="#u" x="19"/><use href="#u" x="20"/><use href="#u" x="21"/><use href="#x" x="22"/><use href="#x" x="23"/></g>
<g id="r24" transform="translate(0 24)"><use href="#c" x="0"/><use href="#c" x="1"/><use href="#c" x="2"/><use href="#j" x="3"/><use href="#f" x="4"/><use href="#x" x="5"/><use href="#x" x="6"/><use href="#x" x="7"/><use href="#u" x="8"/><use href="#u" x="9"/><use href="#x" x="10"/><use href="#u" x="11"/><use href="#x" x="12"/><use href="#x" x="13"/><use href="#u" x="14"/><use href="#x" x="15"/><use href="#x" x="16"/><use href="#u" x="17"/><use href="#u" x="18"/><use href="#x" x="19"/><use href="#x" x="20"/></g>
<g id="r25" transform="translate(0 25)"><use href="#v" x="0"/><use href="#v" x="1"/><use href="#x" x="2"/><use href="#x" x="3"/><use href="#f" x="4"/><use href="#x" x="5"/><use href="#x" x="6"/><use href="#x" x="7"/><use href="#x" x="8"/><use href="#x" x="9"/><use href="#x" x="10"/><use href="#x" x="11"/><use href="#u" x="12"/><use href="#x" x="13"/><use href="#u" x="14"/><use href="#u" x="15"/><use href="#x" x="16"/></g>
<g id="r26" transform="translate(0 26)"><use href="#u" x="0"/><use href="#u" x="1"/><use href="#x" x="2"/><use href="#x" x="3"/><use href="#x" x="4"/><use href="#x" x="5"/><use href="#u" x="6"/><use href="#u" x="7"/><use href="#u" x="8"/><use href="#u" x="9"/><use href="#u" x="10"/><use href="#x" x="11"/><use href="#x" x="12"/></g>
<g id="r27" transform="translate(0 27)"><use href="#x" x="0"/><use href="#x" x="1"/><use href="#x" x="2"/><use href="#x" x="3"/><use href="#x" x="4"/><use href="#x" x="5"/><use href="#x" x="6"/><use href="#x" x="7"/><use href="#x" x="8"/></g>
<g id="r28" transform="translate(0 28)"><use href="#x" x="0"/><use href="#x" x="1"/><use href="#x" x="2"/><use href="#x" x="3"/></g>
<path id="grid" class="n" stroke="#666" stroke-width=".07" d="M0 0V33M1 0V33M2 0V33M3 0V33M4 0V33M5 0V33M6 0V33M7 0V33M8 0V33M9 0V33M10 0V33M11 0V33M12 0V33M13 0V33M14 0V33M15 0V33M16 0V33M17 0V33M18 0V33M19 0V33M20 0V33M21 0V33M22 0V33M23 0V33M24 0V33M25 0V33M26 0V33M27 0V33M28 0V33M29 0V33M30 0V33M31 0V33M32 0V33M33 0V33M34 0V33M35 0V33M36 0V33M37 0V33M38 0V33M39 0V33M40 0V33M41 0V33M42 0V33M43 0V33M44 0V33M45 0V33M46 0V33M47 0V33M48 0V33M49 0V33M50 0V33M51 0V33M52 0V33M53 0V33M54 0V33M55 0V33M56 0V33M0 0H56M0 1H56M0 2H56M0 3H56M0 4H56M0 5H56M0 6H56M0 7H56M0 8H56M0 9H56M0 10H56M0 11H56M0 12H56M0 13H56M0 14H56M0 15H56M0 16H56M0 17H56M0 18H56M0 19H56M0 20H56M0 21H56M0 22H56M0 23H56M0 24H56M0 25H56M0 26H56M0 27H56M0 28H56M0 29H56M0 30H56M0 31H56M0 32H56M0 33H56"/>
<path id="major" class="n" stroke="#000" stroke-width=".14" d="M2 0V33M12 0V33M22 0V33M32 0V33M42 0V33M52 0V33M-.1 5H56M-.1 15H56M-.1 25H56"/>
</g>
</svg>
